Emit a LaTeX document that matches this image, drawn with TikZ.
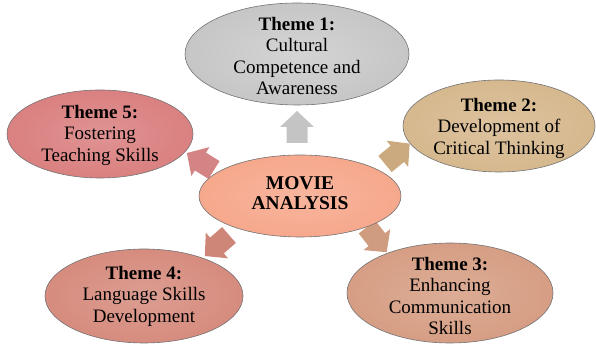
\documentclass[tikz,border=0pt]{standalone}
\usepackage{fontspec}
\setmainfont{Liberation Serif}
\usetikzlibrary{shapes.geometric}
\definecolor{cgray}{RGB}{198,198,198}
\definecolor{ctan}{RGB}{214,184,142}
\definecolor{cred}{RGB}{218,128,128}
\definecolor{cbrick}{RGB}{214,140,126}
\definecolor{cpeach}{RGB}{214,158,132}
\definecolor{csalmon}{RGB}{246,168,140}
\definecolor{agray}{RGB}{196,196,196}
\definecolor{ared}{RGB}{212,132,132}
\definecolor{atan}{RGB}{204,170,128}
\definecolor{abrick}{RGB}{206,134,120}
\definecolor{apeach}{RGB}{208,156,128}
\newcommand\blockarrow[3]{%
  \fill[#3, shift={#1}, rotate=#2] (0,-10.5) -- (16,-10.5) -- (16,-17) -- (32,0) -- (16,17) -- (16,10.5) -- (0,10.5) -- cycle;}
\tikzset{
  bubble/.style={ellipse, draw=black!55, line width=0.6pt, inner sep=0pt},
  txt/.style={align=center, font=\fontsize{19}{21.5}\selectfont, inner sep=0pt, text=black},
}
\begin{document}
\begin{tikzpicture}[x=1pt,y=1pt]
\useasboundingbox (0,0) rectangle (596,344);
% block arrows
\blockarrow{(297,201)}{90}{agray}
\blockarrow{(214,174)}{148}{ared}
\blockarrow{(385,180)}{39.5}{atan}
\blockarrow{(229,109)}{221}{abrick}
\blockarrow{(367,117)}{-52}{apeach}
% ellipses
\node[bubble, minimum width=224pt, minimum height=102pt, inner color=cgray!75!white, outer color=cgray] (t1) at (297,290) {};
\node[bubble, minimum width=186pt, minimum height=88pt, inner color=cred!85!white, outer color=cred] (t5) at (100,210) {};
\node[bubble, minimum width=192pt, minimum height=92pt, inner color=ctan!85!white, outer color=ctan] (t2) at (499,218) {};
\node[bubble, minimum width=198pt, minimum height=94pt, inner color=cbrick!85!white, outer color=cbrick] (t4) at (144,48) {};
\node[bubble, minimum width=206pt, minimum height=100pt, inner color=cpeach!85!white, outer color=cpeach] (t3) at (450,51) {};
\node[bubble, minimum width=202pt, minimum height=82pt, inner color=csalmon!85!white, outer color=csalmon] (m) at (300,148) {};
% texts
\node[txt] (t1txt) at (297,288) {\textbf{Theme 1:}\\Cultural\\Competence and\\Awareness};
\node[txt] (t5txt) at (100,209) {\textbf{Theme 5:}\\Fostering\\Teaching Skills};
\node[txt] (t2txt) at (499,216) {\textbf{Theme 2:}\\Development of\\Critical Thinking};
\node[txt] (t4txt) at (144,48) {\textbf{Theme 4:}\\Language Skills\\Development};
\node[txt] (t3txt) at (450,48) {\textbf{Theme 3:}\\Enhancing\\Communication\\Skills};
\node[txt, font=\fontsize{19.5}{20.5}\selectfont\bfseries] (mtxt) at (300,151) {MOVIE\\ANALYSIS};
\end{tikzpicture}
\end{document}
